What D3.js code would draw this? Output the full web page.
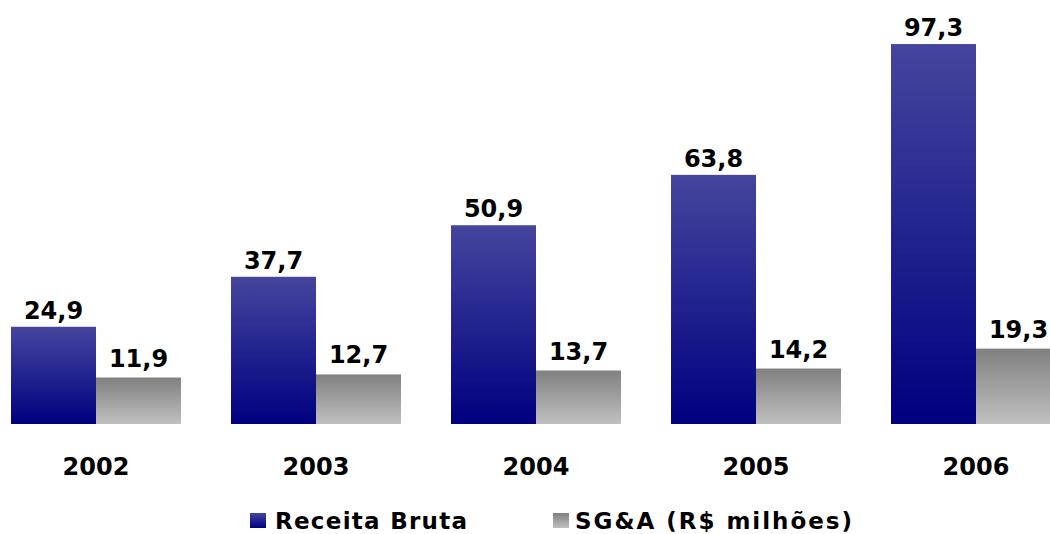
<!DOCTYPE html>
<html>
<head>
<meta charset="utf-8">
<script src="https://cdn.jsdelivr.net/npm/d3@7"></script>
<style>
  html, body { margin: 0; padding: 0; background: #fff; }
  svg { display: block; }
  text { font-family: "DejaVu Sans", Verdana, sans-serif; font-weight: bold; fill: #000; }
</style>
</head>
<body>
<svg id="chart" width="1050" height="534"></svg>
<script>
const years = ["2002", "2003", "2004", "2005", "2006"];
const receitaBruta = [24.9, 37.7, 50.9, 63.8, 97.3];
const sga = [11.9, 12.7, 13.7, 14.2, 19.3];
const seriesNames = ["Receita Bruta", "SG&A (R$ milhões)"];
const seriesKeys = ["r", "s"];

const svg = d3.select("#chart");
const defs = svg.append("defs");

function grad(id, top, bottom) {
  const g = defs.append("linearGradient").attr("id", id)
    .attr("x1", 0).attr("y1", 0).attr("x2", 0).attr("y2", 1);
  g.append("stop").attr("offset", "0%").attr("stop-color", top);
  g.append("stop").attr("offset", "100%").attr("stop-color", bottom);
}
grad("gr", "#45459e", "#000080");
grad("gs", "#808080", "#c0c0c0");
const fills = { r: "url(#gr)", s: "url(#gs)" };

const x0 = d3.scaleBand().domain(years).range([-14, 1086])
  .paddingInner(50 / 220).paddingOuter(25 / 220);
const x1 = d3.scaleBand().domain(seriesKeys).range([0, x0.bandwidth()]);
const y = d3.scaleLinear().domain([0, 100]).range([424, 33.5]);

const data = years.map((yr, i) => ({ year: yr, values: [
  { key: "r", v: receitaBruta[i] },
  { key: "s", v: sga[i] }
]}));

const fmt = v => d3.format(".1f")(v).replace(".", ",");
const labelOffset = { r: 8, s: 11 };

const groups = svg.append("g").selectAll("g").data(data).join("g")
  .attr("transform", d => `translate(${x0(d.year)},0)`);

groups.selectAll("rect").data(d => d.values).join("rect")
  .attr("x", d => x1(d.key))
  .attr("y", d => y(d.v))
  .attr("width", x1.bandwidth())
  .attr("height", d => y(0) - y(d.v))
  .attr("fill", d => fills[d.key]);

groups.selectAll("text.val").data(d => d.values).join("text")
  .attr("class", "val")
  .attr("x", d => x1(d.key) + x1.bandwidth() / 2)
  .attr("y", d => y(d.v) - labelOffset[d.key])
  .attr("text-anchor", "middle")
  .attr("font-size", 24)
  .text(d => fmt(d.v));

// category axis labels
const xAxis = d3.axisBottom(x0).tickSize(0).tickPadding(0);
const ax = svg.append("g").attr("transform", "translate(0,452)").call(xAxis);
ax.select(".domain").remove();
ax.selectAll("text")
  .attr("font-size", 24)
  .attr("font-family", "DejaVu Sans, Verdana, sans-serif")
  .attr("font-weight", "bold")
  .attr("fill", "#000")
  .attr("dy", "0.96em");

// legend
const legendItems = [
  { key: "r", name: seriesNames[0], sx: 250, tx: 275, tl: 192 },
  { key: "s", name: seriesNames[1], sx: 553, tx: 575, tl: 277 }
];
const lg = svg.append("g");
lg.selectAll("rect").data(legendItems).join("rect")
  .attr("x", d => d.sx).attr("y", 513)
  .attr("width", 16).attr("height", 15)
  .attr("fill", d => fills[d.key]);
lg.selectAll("text").data(legendItems).join("text")
  .attr("x", d => d.tx).attr("y", 529)
  .attr("font-size", 23)
  .attr("textLength", d => d.tl)
  .attr("lengthAdjust", "spacing")
  .text(d => d.name);
</script>
</body>
</html>
